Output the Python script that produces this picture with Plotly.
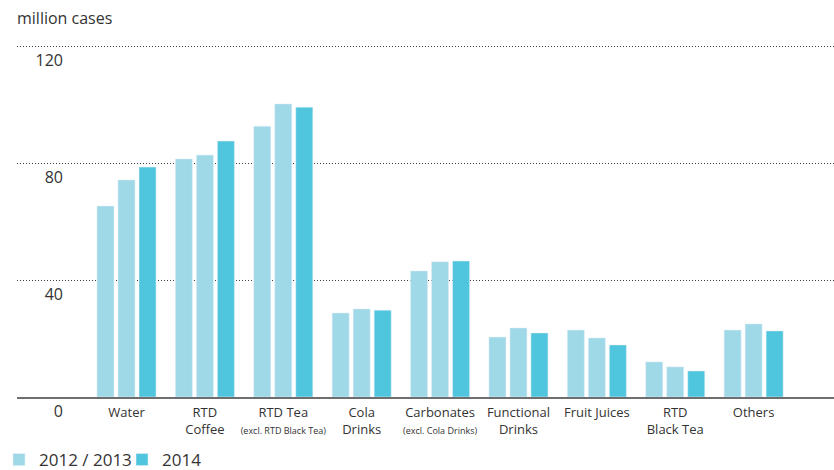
import plotly.graph_objects as go

categories = ["Water", "RTD<br>Coffee", "RTD Tea", "Cola<br>Drinks", "Carbonates",
              "Functional<br>Drinks", "Fruit Juices", "RTD<br>Black Tea", "Others"]
sublabels = ["", "", "(excl. RTD Black Tea)", "", "(excl. Cola Drinks)", "", "", "", ""]
v2012 = [65.3, 81.4, 92.6, 28.7, 43.1, 20.5, 22.9, 12.0, 22.9]
v2013 = [74.2, 82.7, 100.2, 30.1, 46.2, 23.6, 20.2, 10.3, 25.0]
v2014 = [78.6, 87.5, 99.1, 29.7, 46.5, 21.9, 17.8, 8.9, 22.6]
y_ticks = [0, 40, 80, 120]
y_ticklabels = ["0", "40", "80", "120"]

light = "#9FD9E7"
dark = "#50C6DE"
txt = "#333333"
FONT = "Open Sans"

ticktext = [c if not s else c + "<br><span style='font-size:9px'>" + s + "</span>"
            for c, s in zip(categories, sublabels)]
xidx = list(range(len(categories)))

fig = go.Figure()
fig.add_bar(x=xidx, y=v2012, name="2012 / 2013", marker_color=light, legendgroup="a")
fig.add_bar(x=xidx, y=v2013, name="2013", marker_color=light, showlegend=False, legendgroup="a")
fig.add_bar(x=xidx, y=v2014, name="2014", marker_color=dark, legend="legend2")
# carrier trace so the label axis is drawn (draws nothing)
fig.add_scatter(x=xidx, y=v2014, yaxis="y2", mode="none", showlegend=False, hoverinfo="skip")

W, H = 834, 470
ml, mr, mt, mb = 17, 0, 30, 73
pw = W - ml - mr
ph = H - mt - mb
ppu = 2.925
xpp = 78.39

leg_y = -(460 - (H - mb)) / ph
leg_common = dict(orientation="h", xanchor="left", y=leg_y, yanchor="middle",
                  font=dict(family=FONT, size=17, color=txt),
                  itemclick=False, bgcolor="rgba(0,0,0,0)")

fig.update_layout(
    width=W, height=H,
    margin=dict(l=ml, r=mr, t=mt, b=mb, pad=0, autoexpand=False),
    plot_bgcolor="white", paper_bgcolor="white",
    barmode="group", bargap=0.196, bargroupgap=0.19,
    font=dict(family=FONT, color=txt, size=13),
    title=dict(text="million cases", x=17 / W, xanchor="left", xref="container",
               y=1 - 18 / H, yanchor="middle", yref="container",
               font=dict(family=FONT, size=16, color=txt)),
    showlegend=True,
    legend=dict(x=(-1 - ml) / pw, **leg_common),
    legend2=dict(x=(122 - ml) / pw, **leg_common),
    xaxis=dict(
        type="linear",
        range=[-(126.5 - ml) / xpp, (W - 126.5) / xpp],
        tickmode="array", tickvals=xidx, ticktext=ticktext,
        showgrid=False, zeroline=False,
        showline=True, linecolor="#6e6e6e", linewidth=2,
        ticks="", tickfont=dict(family=FONT, size=13, color=txt),
        ticklabelstandoff=2,
        fixedrange=True,
    ),
    yaxis=dict(
        range=[0, ph / ppu],
        tickmode="array", tickvals=y_ticks[1:],
        showticklabels=False, ticks="",
        showgrid=True, gridcolor="#3a3a3a", gridwidth=1, griddash="1px,2px",
        zeroline=False, showline=False, fixedrange=True,
    ),
    yaxis2=dict(
        overlaying="y", anchor="free", position=(63 - ml) / pw,
        range=[0, ph / ppu],
        tickmode="array", tickvals=y_ticks, ticktext=y_ticklabels,
        showgrid=False, zeroline=False, showline=False, ticks="",
        tickfont=dict(family=FONT, size=16, color=txt),
        ticklabelshift=14, fixedrange=True,
    ),
)

fig.write_html("out.html", config={"displayModeBar": False},
               post_script="document.body.style.margin='0';")
